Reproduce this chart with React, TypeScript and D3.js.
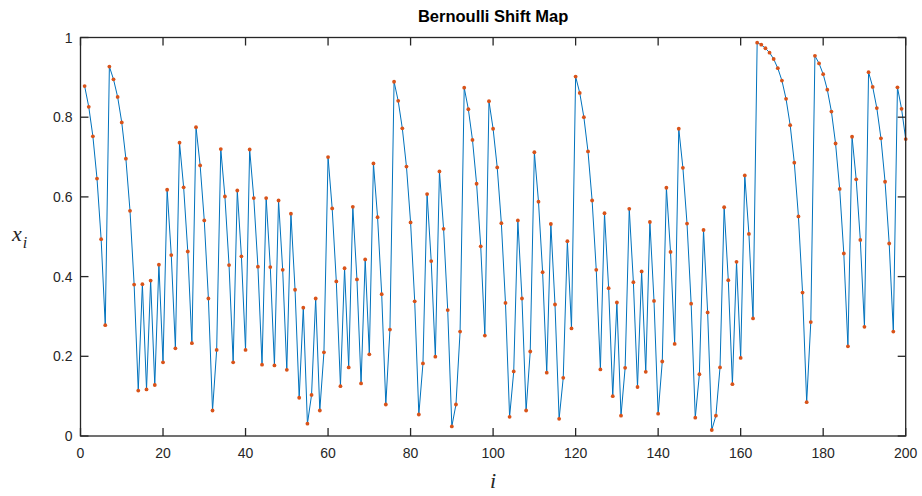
import React from "react";
import * as d3 from "d3";

// Orbit values x_i for i = 1..200
const xValues: number[] = [
  0.878, 0.826, 0.752, 0.646, 0.494, 0.278, 0.927, 0.895, 0.851, 0.787,
  0.696, 0.565, 0.380, 0.114, 0.381, 0.117, 0.390, 0.128, 0.430, 0.185,
  0.618, 0.454, 0.220, 0.736, 0.624, 0.463, 0.233, 0.775, 0.679, 0.541,
  0.345, 0.064, 0.216, 0.720, 0.601, 0.429, 0.185, 0.616, 0.451, 0.216,
  0.719, 0.597, 0.425, 0.179, 0.597, 0.424, 0.177, 0.591, 0.417, 0.166,
  0.558, 0.367, 0.096, 0.322, 0.031, 0.103, 0.345, 0.064, 0.210, 0.700,
  0.571, 0.388, 0.125, 0.421, 0.172, 0.575, 0.393, 0.132, 0.443, 0.205,
  0.684, 0.549, 0.356, 0.079, 0.267, 0.889, 0.841, 0.772, 0.676, 0.536,
  0.338, 0.054, 0.182, 0.607, 0.439, 0.199, 0.664, 0.520, 0.316, 0.024,
  0.079, 0.262, 0.874, 0.820, 0.743, 0.633, 0.476, 0.252, 0.840, 0.771,
  0.674, 0.534, 0.334, 0.048, 0.162, 0.541, 0.345, 0.064, 0.212, 0.712,
  0.588, 0.411, 0.159, 0.532, 0.330, 0.043, 0.146, 0.489, 0.270, 0.902,
  0.861, 0.800, 0.714, 0.591, 0.417, 0.167, 0.559, 0.371, 0.100, 0.335,
  0.051, 0.171, 0.570, 0.386, 0.123, 0.413, 0.161, 0.537, 0.339, 0.056,
  0.187, 0.623, 0.462, 0.231, 0.771, 0.673, 0.533, 0.332, 0.046, 0.155,
  0.517, 0.310, 0.015, 0.051, 0.172, 0.574, 0.391, 0.130, 0.437, 0.196,
  0.654, 0.507, 0.295, 0.987, 0.982, 0.973, 0.962, 0.946, 0.923, 0.892,
  0.846, 0.780, 0.686, 0.551, 0.360, 0.085, 0.286, 0.954, 0.935, 0.908,
  0.869, 0.814, 0.734, 0.620, 0.458, 0.225, 0.751, 0.644, 0.492, 0.274,
  0.913, 0.876, 0.823, 0.747, 0.638, 0.483, 0.262, 0.875, 0.821, 0.745,
];

const xTicks: number[] = [0, 20, 40, 60, 80, 100, 120, 140, 160, 180, 200];
const yTicks: number[] = [0, 0.2, 0.4, 0.6, 0.8, 1];

const titleText = "Bernoulli Shift Map";

const W = 922;
const H = 496;
const plot = { left: 80.5, right: 905.7, top: 37.5, bottom: 436 };
const tickLen = 8;
const axisColor = "#262626";
const lineColor = "#0072BD";
const markerColor = "#D95319";
const font = "'Liberation Sans', Arial, Helvetica, sans-serif";

export default function App() {
  const x = d3.scaleLinear().domain([0, 200]).range([plot.left, plot.right]);
  const y = d3.scaleLinear().domain([0, 1]).range([plot.bottom, plot.top]);

  const pts = xValues.map((v, k) => ({ i: k + 1, v }));
  const path = d3
    .line<{ i: number; v: number }>()
    .x((d) => x(d.i))
    .y((d) => y(d.v))(pts);

  return (
    <svg
      width={W}
      height={H}
      style={{ position: "absolute", left: 0, top: 0, display: "block", background: "#fff" }}
    >
      <rect x={0} y={0} width={W} height={H} fill="#fff" />

      {/* series */}
      <path d={path ?? ""} fill="none" stroke={lineColor} strokeWidth={1} strokeLinejoin="round" />
      {pts.map((d) => (
        <circle key={d.i} cx={x(d.i)} cy={y(d.v)} r={1.9} fill={markerColor} />
      ))}

      {/* box */}
      <rect
        x={plot.left}
        y={plot.top}
        width={plot.right - plot.left}
        height={plot.bottom - plot.top}
        fill="none"
        stroke={axisColor}
        strokeWidth={1.3}
      />

      {/* x ticks, bottom and top */}
      {xTicks.map((t) => (
        <g key={"xt" + t}>
          <line x1={x(t)} x2={x(t)} y1={plot.bottom} y2={plot.bottom - tickLen} stroke={axisColor} strokeWidth={1.3} />
          <line x1={x(t)} x2={x(t)} y1={plot.top} y2={plot.top + tickLen} stroke={axisColor} strokeWidth={1.3} />
          <text
            x={x(t)}
            y={plot.bottom + 22}
            textAnchor="middle"
            fontFamily={font}
            fontSize={14}
            fill={axisColor}
          >
            {t}
          </text>
        </g>
      ))}

      {/* y ticks, left and right */}
      {yTicks.map((t) => (
        <g key={"yt" + t}>
          <line x1={plot.left} x2={plot.left + tickLen} y1={y(t)} y2={y(t)} stroke={axisColor} strokeWidth={1.3} />
          <line x1={plot.right} x2={plot.right - tickLen} y1={y(t)} y2={y(t)} stroke={axisColor} strokeWidth={1.3} />
          <text
            x={plot.left - 8}
            y={y(t) + 5}
            textAnchor="end"
            fontFamily={font}
            fontSize={14}
            fill={axisColor}
          >
            {d3.format("~g")(t)}
          </text>
        </g>
      ))}

      {/* title */}
      <text
        x={(plot.left + plot.right) / 2}
        y={21.5}
        textAnchor="middle"
        fontFamily={font}
        fontWeight="bold"
        fontSize={16.5}
        fill="#000"
      >
        {titleText}
      </text>

      {/* axis labels */}
      <text
        x={(plot.left + plot.right) / 2}
        y={488}
        textAnchor="middle"
        fontFamily="'Liberation Serif', 'Times New Roman', serif"
        fontStyle="italic"
        fontSize={22}
        fill={axisColor}
      >
        i
      </text>
      <text
        x={12}
        y={241}
        fontFamily="'Liberation Serif', 'Times New Roman', serif"
        fontStyle="italic"
        fontSize={22}
        fill={axisColor}
      >
        x
        <tspan dx={1} dy={7} fontSize={16}>
          i
        </tspan>
      </text>
    </svg>
  );
}
